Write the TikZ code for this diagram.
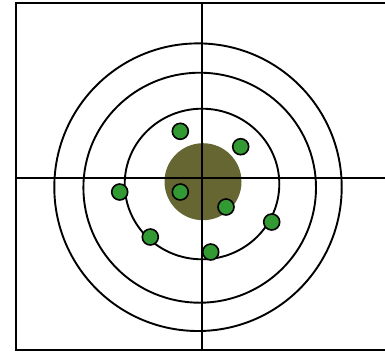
\documentclass[tikz,border=0pt]{standalone}
\definecolor{disc}{RGB}{102,102,51}
\definecolor{dotgreen}{RGB}{51,153,51}
\begin{document}
\begin{tikzpicture}[x=1pt,y=-1pt,
  line/.style={draw=black,line width=1.9pt},
  ring/.style={draw=black,line width=1.9pt},
  shot/.style={circle,draw=black,line width=1.6pt,fill=dotgreen,minimum size=16pt,inner sep=0pt}]
\useasboundingbox (0,0) rectangle (385,354);
\begin{scope}
\clip (0,0) rectangle (385,354);
\fill[disc] (203,181.7) circle (38.5);
\draw[line] (16,3.3) rectangle (390,350);
\draw[line] (202.3,3.3) -- (202.3,350);
\draw[line] (14.7,178) -- (390,178);
\draw[ring] (198,187.2) ellipse (143.7 and 143.8);
\draw[ring] (199.7,187.7) ellipse (116.3 and 115);
\draw[ring] (202,184) ellipse (77.3 and 75.3);
\end{scope}
\node[shot] (s1) at (180.3,131.3) {};
\node[shot] (s2) at (240.7,146.7) {};
\node[shot] (s3) at (119.7,192) {};
\node[shot] (s4) at (180.3,192) {};
\node[shot] (s5) at (226,207) {};
\node[shot] (s6) at (271.7,222) {};
\node[shot] (s7) at (150.3,237) {};
\node[shot] (s8) at (210.7,252) {};
\end{tikzpicture}
\end{document}
